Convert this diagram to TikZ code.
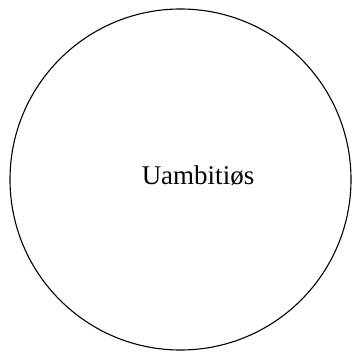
\documentclass[tikz,border=0pt]{standalone}
\usepackage{fontspec}
\setmainfont{Liberation Serif}
\usetikzlibrary{positioning}

\begin{document}
\begin{tikzpicture}[x=1pt,y=-1pt]
        \useasboundingbox (0,0) rectangle (361,358);
        \node[draw, circle, line width=1.1pt, minimum size=341pt, inner sep=0pt] (trait) at (180.5,179.5) {};
        \node[font=\fontsize{27}{32}\selectfont, inner sep=0pt] (label) at (198,176) {Uambitiøs};
    \end{tikzpicture}
\end{document}
